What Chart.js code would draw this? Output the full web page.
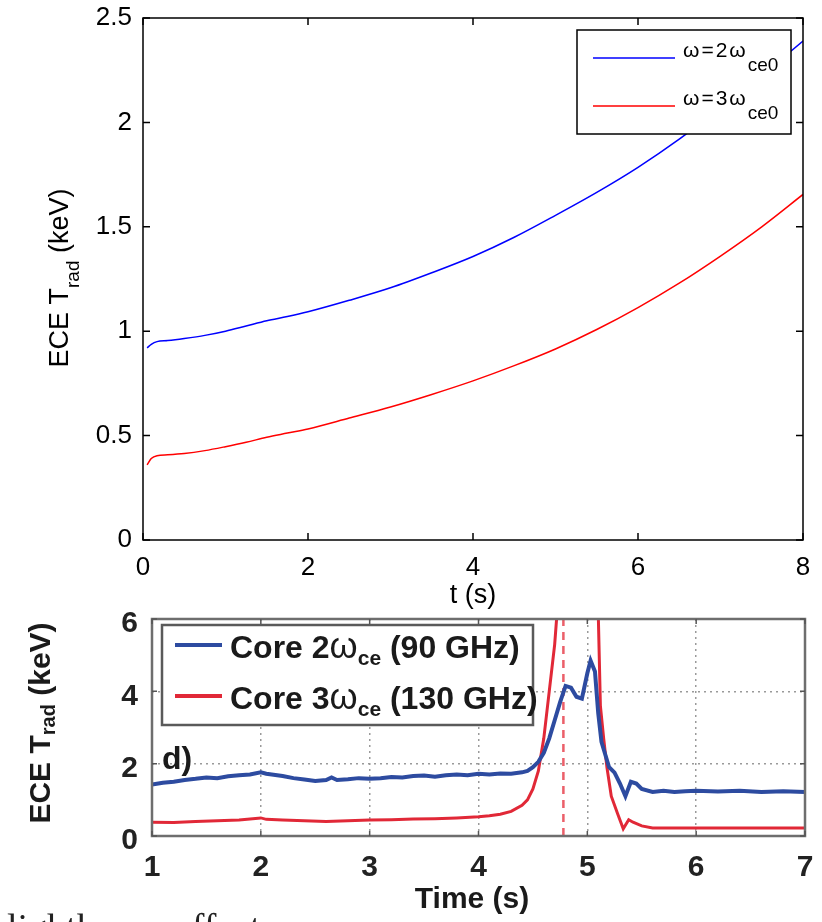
<!DOCTYPE html>
<html>
<head>
<meta charset="utf-8">
<script src="https://cdn.jsdelivr.net/npm/chart.js@4.4.1/dist/chart.umd.min.js"></script>
<style>
  html, body { margin: 0; padding: 0; background: #fff; width: 822px; height: 922px; overflow: hidden; }
  #top { position: absolute; left: 0; top: 0; }
  #bottom { position: absolute; left: 0; top: 600px; filter: blur(0.6px); }
  #caption { position: absolute; left: 7px; top: 908px; font: 38px/38px 'Liberation Serif', serif; color: #222; white-space: nowrap; }
</style>
</head>
<body>
<canvas id="top" width="822" height="610"></canvas>
<canvas id="bottom" width="822" height="322"></canvas>
<div id="caption">lighthouse effect</div>
<script>
// top panel: simulated ECE radiation temperature
const simTime  = [0.05, 0.1, 0.17, 0.3, 0.5, 0.75, 1, 1.25, 1.5, 1.75, 2, 2.5, 3, 3.5, 4, 4.5, 5, 5.5, 6, 6.5, 7, 7.5, 8];
const simTrad2 = [0.92, 0.937, 0.95, 0.955, 0.965, 0.98, 1.0, 1.025, 1.05, 1.07, 1.093, 1.148, 1.208, 1.28, 1.358, 1.45, 1.555, 1.665, 1.785, 1.92, 2.07, 2.225, 2.39];
const simTrad3 = [0.36, 0.39, 0.404, 0.408, 0.414, 0.428, 0.447, 0.468, 0.492, 0.512, 0.532, 0.584, 0.637, 0.697, 0.762, 0.835, 0.915, 1.008, 1.113, 1.23, 1.36, 1.5, 1.655];
const simLegendMain = ['ω=2ω', 'ω=3ω'];
const simLegendSub  = ['ce0', 'ce0'];

// bottom panel: measured ECE traces
const measTime2 = [1.0, 1.1, 1.2, 1.3, 1.4, 1.5, 1.6, 1.7, 1.8, 1.9, 2.0, 2.05, 2.1, 2.2, 2.3, 2.4, 2.5, 2.6, 2.65, 2.7, 2.8, 2.9, 3.0, 3.1, 3.2, 3.3, 3.4, 3.5, 3.6, 3.7, 3.8, 3.9, 4.0, 4.1, 4.2, 4.3, 4.4, 4.45, 4.5, 4.55, 4.6, 4.65, 4.7, 4.75, 4.8, 4.85, 4.9, 4.95, 5.0, 5.03, 5.07, 5.1, 5.13, 5.2, 5.25, 5.3, 5.35, 5.4, 5.45, 5.5, 5.6, 5.7, 5.8, 5.9, 6.0, 6.2, 6.4, 6.6, 6.8, 7.0];
const measTrad2 = [1.42, 1.47, 1.5, 1.55, 1.58, 1.62, 1.6, 1.65, 1.68, 1.7, 1.76, 1.72, 1.7, 1.66, 1.6, 1.56, 1.52, 1.55, 1.62, 1.55, 1.57, 1.6, 1.58, 1.6, 1.63, 1.62, 1.66, 1.67, 1.64, 1.68, 1.7, 1.68, 1.72, 1.7, 1.73, 1.72, 1.76, 1.8, 1.9, 2.05, 2.3, 2.7, 3.2, 3.7, 4.15, 4.1, 3.85, 3.8, 4.5, 4.85, 4.55, 3.4, 2.6, 1.9, 1.75, 1.45, 1.1, 1.5, 1.45, 1.3, 1.22, 1.25, 1.22, 1.24, 1.25, 1.23, 1.25, 1.22, 1.24, 1.22];
const measTime3 = [1.0, 1.2, 1.4, 1.6, 1.8, 2.0, 2.05, 2.2, 2.4, 2.6, 2.8, 3.0, 3.2, 3.4, 3.6, 3.8, 4.0, 4.1, 4.2, 4.3, 4.4, 4.45, 4.5, 4.55, 4.6, 4.65, 4.7, 4.73, 4.75, 4.85, 5.0, 5.08, 5.1, 5.12, 5.15, 5.18, 5.22, 5.28, 5.33, 5.38, 5.42, 5.5, 5.6, 6.0, 6.5, 7.0];
const measTrad3 = [0.38, 0.37, 0.4, 0.42, 0.44, 0.5, 0.46, 0.44, 0.42, 0.4, 0.42, 0.44, 0.45, 0.47, 0.48, 0.5, 0.53, 0.56, 0.6, 0.68, 0.85, 1.0, 1.3, 1.8, 2.7, 4.0, 5.3, 6.5, 8.0, 12.0, 12.0, 8.0, 6.2, 3.6, 2.7, 1.9, 1.1, 0.6, 0.2, 0.45, 0.38, 0.28, 0.22, 0.22, 0.22, 0.22];
const markerTime = 4.78;
const measLegend = [
  { main: 'Core 2', omega: 'ω', sub: 'ce', rest: ' (90 GHz)' },
  { main: 'Core 3', omega: 'ω', sub: 'ce', rest: ' (130 GHz)' }
];

const SANS = "'Liberation Sans', Arial, Helvetica, sans-serif";

function pts(xs, ys) {
  return xs.map((x, i) => ({ x: x, y: ys[i] }));
}

// draws a run of text pieces, each {text, font, dy, spacing}; returns total width
function drawPieces(ctx, pieces, x, y, measureOnly) {
  let w = 0;
  pieces.forEach(p => {
    ctx.font = p.font;
    ctx.letterSpacing = p.spacing || '0px';
    if (!measureOnly) ctx.fillText(p.text, x + w, y + (p.dy || 0));
    w += ctx.measureText(p.text).width;
  });
  ctx.letterSpacing = '0px';
  return w;
}

function inwardTicks(ctx, chart, len) {
  const a = chart.chartArea;
  const xs = chart.scales.x, ys = chart.scales.y;
  ctx.beginPath();
  xs.ticks.forEach(t => {
    const px = xs.getPixelForValue(t.value);
    ctx.moveTo(px, a.bottom); ctx.lineTo(px, a.bottom - len);
    ctx.moveTo(px, a.top); ctx.lineTo(px, a.top + len);
  });
  ys.ticks.forEach(t => {
    const py = ys.getPixelForValue(t.value);
    ctx.moveTo(a.left, py); ctx.lineTo(a.left + len, py);
    ctx.moveTo(a.right, py); ctx.lineTo(a.right - len, py);
  });
  ctx.stroke();
}

// keep the plot box where we put it, whatever the tick labels overhang
function fixX(h) {
  return s => { s.height = h; s.paddingLeft = 0; s.paddingRight = 0; };
}
function fixY(w) {
  return s => { s.width = w; s.paddingTop = 0; s.paddingBottom = 0; };
}

const matlabFrame = {
  id: 'matlabFrame',
  afterDraw(chart) {
    const ctx = chart.ctx, a = chart.chartArea;
    ctx.save();
    ctx.strokeStyle = '#000';
    ctx.lineWidth = 1.5;
    ctx.strokeRect(a.left, a.top, a.right - a.left, a.bottom - a.top);
    inwardTicks(ctx, chart, 7);

    // legend
    const lx = a.right - 226, ly = a.top + 12, lw = 214, lh = 104;
    ctx.fillStyle = '#fff';
    ctx.fillRect(lx, ly, lw, lh);
    ctx.strokeRect(lx, ly, lw, lh);
    chart.data.datasets.forEach((ds, i) => {
      const cy = ly + 28 + i * 48;
      ctx.strokeStyle = ds.borderColor;
      ctx.lineWidth = 1.5;
      ctx.beginPath();
      ctx.moveTo(lx + 16, cy); ctx.lineTo(lx + 98, cy);
      ctx.stroke();
      ctx.fillStyle = '#000';
      ctx.textBaseline = 'alphabetic';
      ctx.textAlign = 'left';
      drawPieces(ctx, [
        { text: simLegendMain[i], font: '21px ' + SANS, dy: 0, spacing: '2px' },
        { text: simLegendSub[i], font: '19px ' + SANS, dy: 14 }
      ], lx + 106, cy - 1);
    });

    // axis titles
    ctx.fillStyle = '#000';
    ctx.textAlign = 'left';
    ctx.textBaseline = 'alphabetic';
    const xt = 't (s)';
    ctx.font = '27px ' + SANS;
    ctx.fillText(xt, (a.left + a.right) / 2 - ctx.measureText(xt).width / 2, a.bottom + 63);

    const yPieces = [
      { text: 'ECE T', font: '27px ' + SANS, dy: 0 },
      { text: 'rad', font: '19px ' + SANS, dy: 11 },
      { text: ' (keV)', font: '27px ' + SANS, dy: 0 }
    ];
    ctx.translate(68, 278);
    ctx.rotate(-Math.PI / 2);
    const tw = drawPieces(ctx, yPieces, 0, 0, true);
    drawPieces(ctx, yPieces, -tw / 2, 0);
    ctx.restore();
  }
};

new Chart(document.getElementById('top'), {
  type: 'line',
  data: {
    datasets: [
      { label: 'ω=2ωce0', data: pts(simTime, simTrad2), borderColor: '#0000ff', borderWidth: 1.5, pointRadius: 0, cubicInterpolationMode: 'monotone' },
      { label: 'ω=3ωce0', data: pts(simTime, simTrad3), borderColor: '#ff0000', borderWidth: 1.5, pointRadius: 0, cubicInterpolationMode: 'monotone' }
    ]
  },
  options: {
    responsive: false,
    animation: false,
    devicePixelRatio: 1,
    layout: { padding: { left: 0, right: 19, top: 18, bottom: 0 } },
    plugins: { legend: { display: false }, tooltip: { enabled: false } },
    scales: {
      x: {
        type: 'linear', min: 0, max: 8,
        afterFit: fixX(70),
        ticks: { stepSize: 2, padding: 12, color: '#000', font: { family: SANS, size: 26 } },
        grid: { display: false, drawTicks: false },
        border: { display: false }
      },
      y: {
        type: 'linear', min: 0, max: 2.5,
        afterFit: fixY(143),
        ticks: { stepSize: 0.5, padding: 11, color: '#000', font: { family: SANS, size: 26 }, callback: v => String(v) },
        grid: { display: false, drawTicks: false },
        border: { display: false }
      }
    }
  },
  plugins: [matlabFrame]
});

const paperFrame = {
  id: 'paperFrame',
  afterDraw(chart) {
    const ctx = chart.ctx, a = chart.chartArea;
    ctx.save();
    ctx.strokeStyle = '#6e6e6e';
    ctx.lineWidth = 2.5;
    ctx.strokeRect(a.left, a.top, a.right - a.left, a.bottom - a.top);
    ctx.lineWidth = 1.5;
    ctx.strokeStyle = '#555';
    inwardTicks(ctx, chart, 5);

    // legend
    const lx = a.left + 10, ly = a.top + 6, lw = 371, lh = 100;
    ctx.fillStyle = '#fff';
    ctx.fillRect(lx, ly, lw, lh);
    ctx.strokeStyle = '#5a5a5a';
    ctx.lineWidth = 2.5;
    ctx.strokeRect(lx, ly, lw, lh);
    measLegend.forEach((row, i) => {
      const cy = ly + 20 + i * 51;
      ctx.strokeStyle = chart.data.datasets[i].borderColor;
      ctx.lineWidth = 4;
      ctx.beginPath();
      ctx.moveTo(lx + 13, cy); ctx.lineTo(lx + 60, cy);
      ctx.stroke();
      ctx.fillStyle = '#1a1a1a';
      ctx.textAlign = 'left';
      ctx.textBaseline = 'alphabetic';
      drawPieces(ctx, [
        { text: row.main, font: 'bold 32px ' + SANS },
        { text: row.omega, font: '36px ' + SANS },
        { text: row.sub, font: 'bold 21px ' + SANS, dy: 7 },
        { text: row.rest, font: 'bold 32px ' + SANS }
      ], lx + 68, cy + 13);
    });

    // panel tag
    ctx.fillStyle = '#1a1a1a';
    ctx.font = 'bold 32px ' + SANS;
    ctx.fillText('d)', a.left + 10, a.top + 150);

    // axis titles
    const xt = 'Time (s)';
    ctx.font = 'bold 30px ' + SANS;
    ctx.fillText(xt, 472 - ctx.measureText(xt).width / 2, 308);

    const yPieces = [
      { text: 'ECE T', font: 'bold 30px ' + SANS, dy: 0 },
      { text: 'rad', font: 'bold 20px ' + SANS, dy: 5 },
      { text: ' (keV)', font: 'bold 30px ' + SANS, dy: 0 }
    ];
    ctx.translate(50, 123);
    ctx.rotate(-Math.PI / 2);
    const tw = drawPieces(ctx, yPieces, 0, 0, true);
    drawPieces(ctx, yPieces, -tw / 2, 0);
    ctx.restore();
  }
};

new Chart(document.getElementById('bottom'), {
  type: 'line',
  data: {
    datasets: [
      { label: 'Core 2ωce (90 GHz)', data: pts(measTime2, measTrad2), borderColor: 'rgb(45,75,160)', borderWidth: 4, pointRadius: 0, tension: 0, clip: 0 },
      { label: 'Core 3ωce (130 GHz)', data: pts(measTime3, measTrad3), borderColor: 'rgb(225,40,55)', borderWidth: 3, pointRadius: 0, tension: 0, clip: 0 },
      { label: 'marker', data: [{ x: markerTime, y: 0 }, { x: markerTime, y: 6 }], borderColor: 'rgb(235,95,105)', borderWidth: 2.5, borderDash: [8, 6], pointRadius: 0, clip: 0 }
    ]
  },
  options: {
    responsive: false,
    animation: false,
    devicePixelRatio: 1,
    layout: { padding: { left: 0, right: 17, top: 19, bottom: 0 } },
    plugins: { legend: { display: false }, tooltip: { enabled: false } },
    scales: {
      x: {
        type: 'linear', min: 1, max: 7,
        afterFit: fixX(86),
        ticks: { stepSize: 1, padding: 14, color: '#222', font: { family: SANS, size: 30, weight: 'bold' } },
        grid: { color: '#9a9a9a', lineWidth: 1.5, drawTicks: false },
        border: { display: false, dash: [2, 4] }
      },
      y: {
        type: 'linear', min: 0, max: 6,
        afterFit: fixY(152),
        ticks: { stepSize: 2, padding: 14, labelOffset: 5, color: '#222', font: { family: SANS, size: 30, weight: 'bold' } },
        grid: { color: '#9a9a9a', lineWidth: 1.5, drawTicks: false },
        border: { display: false, dash: [2, 4] }
      }
    }
  },
  plugins: [paperFrame]
});
</script>
</body>
</html>
